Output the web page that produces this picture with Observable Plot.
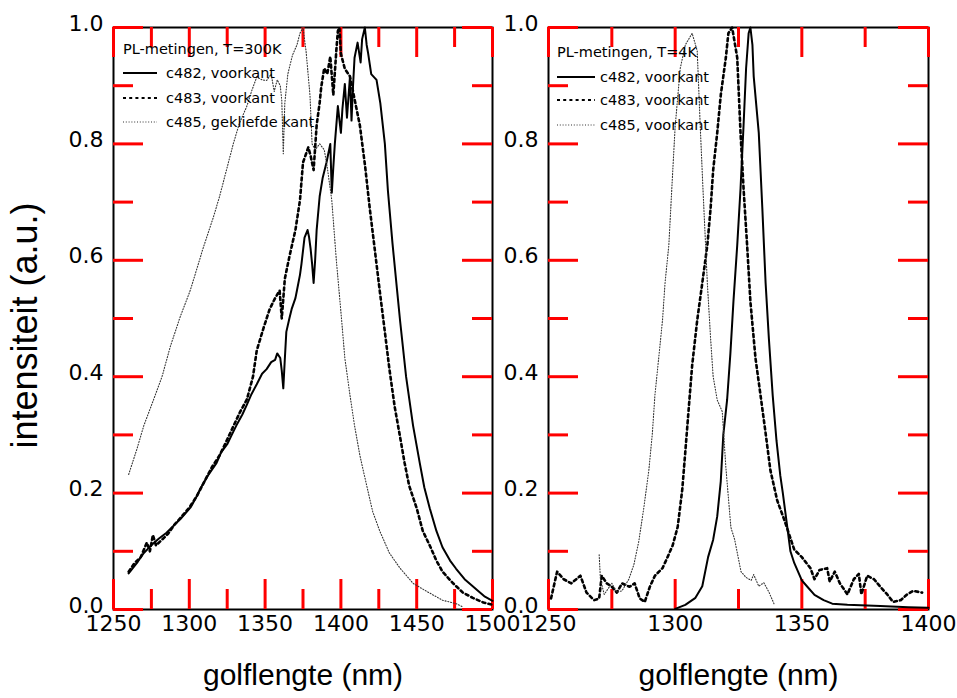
<!DOCTYPE html>
<html>
<head>
<meta charset="utf-8">
<script src="https://cdn.jsdelivr.net/npm/d3@7"></script>
<script src="https://cdn.jsdelivr.net/npm/@observablehq/plot@0.6"></script>
<style>
  html, body { margin: 0; padding: 0; background: white; }
  #chart { position: relative; width: 957px; height: 698px; overflow: hidden; background: white; }
  #chart svg { position: absolute; top: 0; overflow: visible; }
</style>
</head>
<body>
<div id="chart"></div>
<script>
// ---------- data: [wavelength (nm), intensity (a.u.)] ----------
const c482_300K = [[1260,0.062],[1263,0.072],[1266,0.082],[1270,0.097],[1273,0.105],[1276,0.113],[1280,0.122],[1285,0.132],[1290,0.145],[1294,0.155],[1298,0.167],[1301,0.176],[1305,0.195],[1307,0.206],[1312,0.229],[1318,0.252],[1321,0.27],[1325,0.284],[1328,0.3],[1331,0.316],[1335,0.335],[1338,0.352],[1341,0.37],[1344.5,0.387],[1348,0.405],[1351,0.413],[1354,0.425],[1356.6,0.429],[1358,0.44],[1360,0.432],[1361,0.41],[1362,0.38],[1363,0.43],[1364,0.477],[1366,0.5],[1367.5,0.516],[1370,0.535],[1371,0.548],[1373,0.575],[1374,0.594],[1376,0.639],[1378,0.652],[1379,0.64],[1380,0.62],[1381,0.594],[1382,0.561],[1383,0.6],[1384,0.652],[1386,0.71],[1388,0.742],[1390.5,0.768],[1393,0.8],[1394,0.716],[1395,0.76],[1396,0.8],[1398,0.865],[1400,0.819],[1401,0.86],[1402.6,0.903],[1404,0.845],[1406,0.916],[1407,0.84],[1408,0.9],[1409,0.948],[1411,0.974],[1413,0.94],[1414,0.98],[1415.8,1.0],[1417,0.97],[1418,0.955],[1420,0.92],[1423.5,0.91],[1426,0.87],[1429,0.8],[1431,0.72],[1434,0.63],[1437,0.55],[1439,0.497],[1443,0.4],[1447.6,0.316],[1452,0.252],[1455,0.21],[1458.6,0.174],[1463,0.135],[1467,0.107],[1472,0.084],[1476,0.07],[1481.6,0.052],[1486,0.042],[1490,0.033],[1495,0.022],[1500,0.015]];

const c483_300K = [[1260,0.065],[1264,0.08],[1268,0.09],[1272,0.115],[1274,0.1],[1276,0.128],[1278,0.11],[1282,0.12],[1286,0.13],[1290,0.145],[1295,0.16],[1300,0.175],[1305,0.195],[1310,0.22],[1315,0.245],[1320,0.265],[1325,0.292],[1330,0.32],[1333.6,0.34],[1338,0.361],[1342,0.4],[1344.5,0.445],[1349,0.484],[1353,0.516],[1356.6,0.535],[1359.6,0.548],[1361,0.5],[1363,0.568],[1366,0.606],[1370,0.652],[1373,0.703],[1375,0.768],[1378.5,0.794],[1380,0.78],[1382,0.755],[1384,0.832],[1386,0.871],[1387,0.897],[1389,0.93],[1391,0.92],[1393,0.95],[1395,0.884],[1397,0.961],[1398,0.994],[1399,1.0],[1400,0.955],[1402.6,0.929],[1406,0.916],[1409,0.877],[1412.5,0.832],[1416,0.761],[1419,0.69],[1422,0.626],[1425.6,0.548],[1429,0.477],[1432,0.413],[1435.5,0.348],[1439,0.297],[1442,0.252],[1445,0.213],[1450,0.174],[1454,0.135],[1458.6,0.11],[1463,0.084],[1467,0.065],[1474,0.045],[1480.5,0.029],[1487,0.02],[1494,0.012],[1500,0.008]];

const c485_300K = [[1260,0.232],[1265.6,0.277],[1270,0.316],[1276.5,0.361],[1282,0.4],[1287.5,0.452],[1294,0.503],[1300.6,0.548],[1306,0.594],[1309,0.62],[1316,0.675],[1320,0.71],[1325,0.76],[1329,0.8],[1333,0.835],[1338,0.865],[1341,0.89],[1344.5,0.915],[1348,0.91],[1351,0.909],[1354,0.92],[1356,0.89],[1358,0.91],[1360,0.9],[1361,0.875],[1362,0.783],[1363,0.87],[1365,0.92],[1368,0.952],[1371,0.97],[1373,0.99],[1375,1.0],[1377,0.96],[1379.6,0.884],[1381,0.8],[1383,0.79],[1386,0.8],[1389,0.79],[1391,0.76],[1394,0.703],[1397,0.6],[1400.5,0.497],[1402.6,0.432],[1406,0.368],[1409,0.316],[1412.5,0.265],[1417,0.213],[1421,0.168],[1425.6,0.135],[1432,0.097],[1439,0.071],[1447.6,0.045],[1456,0.032],[1467,0.016],[1476,0.01],[1480,0.005]];

const c482_4K = [[1300,0.001],[1304,0.008],[1308,0.02],[1310.7,0.04],[1313,0.09],[1315,0.12],[1316.6,0.16],[1318,0.22],[1319,0.3],[1320.5,0.36],[1321.8,0.44],[1323,0.529],[1324.5,0.626],[1325.8,0.723],[1327,0.832],[1328,0.93],[1329,0.99],[1329.7,1.0],[1330.5,0.97],[1331,0.916],[1333,0.819],[1334.4,0.69],[1335.7,0.561],[1337,0.465],[1338.5,0.368],[1340,0.29],[1341.5,0.23],[1342.5,0.2],[1344,0.15],[1345.5,0.1],[1347,0.08],[1350,0.05],[1352,0.04],[1355,0.025],[1358.6,0.016],[1362,0.01],[1368,0.008],[1381,0.006],[1392,0.004],[1400,0.003]];

const c483_4K = [[1251,0.019],[1253.4,0.065],[1256,0.052],[1259,0.045],[1262.6,0.058],[1265,0.029],[1268,0.016],[1270,0.019],[1271,0.058],[1273,0.045],[1275,0.039],[1277,0.029],[1279,0.045],[1282,0.039],[1284,0.045],[1286,0.019],[1288,0.013],[1290,0.039],[1292,0.058],[1295,0.071],[1297,0.09],[1299,0.11],[1301,0.142],[1302.8,0.206],[1304,0.271],[1305.4,0.348],[1306.7,0.419],[1308.7,0.497],[1310.7,0.561],[1312.7,0.626],[1314,0.69],[1315,0.755],[1316.6,0.819],[1318,0.884],[1320,0.948],[1321,0.99],[1322.5,1.0],[1324.5,0.948],[1325.8,0.819],[1327,0.723],[1328.4,0.626],[1329.7,0.529],[1331.7,0.432],[1333.7,0.368],[1335.7,0.303],[1337.6,0.239],[1340.3,0.187],[1343,0.155],[1347,0.103],[1350,0.09],[1353.4,0.071],[1355,0.052],[1357,0.068],[1360,0.071],[1361,0.048],[1363,0.065],[1365,0.045],[1368,0.026],[1370.5,0.052],[1372.5,0.061],[1373.5,0.026],[1375.8,0.058],[1378.5,0.052],[1381,0.039],[1383.7,0.026],[1386,0.013],[1389,0.016],[1391.6,0.026],[1394,0.032],[1397.5,0.029]];

const c485_4K = [[1270,0.094],[1270.5,0.052],[1272,0.026],[1275,0.045],[1277,0.03],[1279,0.032],[1281.7,0.052],[1283.7,0.077],[1285.6,0.116],[1287.6,0.174],[1289.6,0.239],[1291,0.303],[1292,0.368],[1293.5,0.432],[1295,0.497],[1296,0.561],[1297.5,0.626],[1299,0.75],[1300,0.83],[1302,0.93],[1304,0.97],[1306.7,0.99],[1308.7,0.96],[1310,0.82],[1311,0.72],[1312.7,0.561],[1314,0.465],[1315,0.4],[1316.6,0.36],[1318.6,0.34],[1320,0.245],[1322,0.141],[1323.5,0.12],[1326,0.065],[1328,0.055],[1330,0.05],[1331,0.06],[1333,0.04],[1335,0.046],[1337,0.03],[1339,0.01]];

// ---------- tick labels / categories ----------
const xMajorLeft = [1250, 1300, 1350, 1400, 1450, 1500];
const xMinorLeft = [1275, 1325, 1375, 1425, 1475];
const xMajorRight = [1250, 1300, 1350, 1400];
const xMinorRight = [1275, 1325, 1375];
const yMajor = [0, 0.2, 0.4, 0.6, 0.8, 1.0];
const yMinor = [0.1, 0.3, 0.5, 0.7, 0.9];
const legendLeftTitle = "PL-metingen, T=300K";
const legendLeftLabels = ["c482, voorkant", "c483, voorkant", "c485, gekliefde kant"];
const legendRightTitle = "PL-metingen, T=4K";
const legendRightLabels = ["c482, voorkant", "c483, voorkant", "c485, voorkant"];
const xTitle = "golflengte (nm)";
const yTitle = "intensiteit (a.u.)";

// ---------- styles ----------
const lineStyles = [
  {stroke: "#000", strokeWidth: 2, strokeDasharray: null},
  {stroke: "#000", strokeWidth: 2.6, strokeDasharray: "3,3.2"},
  {stroke: "#333", strokeWidth: 1.1, strokeDasharray: "1,1.8"}
];
const FONT = "'DejaVu Sans', 'Liberation Sans', Arial, sans-serif";
const TITLE_FONT = "'Liberation Sans', Arial, Helvetica, sans-serif";
const MT = 27, MB = 89, H = 698;
const FRAME_H = H - MT - MB;

function panel({series, domain, xMajor, xMinor, width, marginLeft, marginRight, withYTitle}) {
  const frameW = width - marginLeft - marginRight;
  const maj = 30, mnr = 20;   // diagnostic: long red ticks
  const marks = [];
  marks.push(Plot.frame({stroke: "#000", fill: "none", strokeWidth: 2}));
  marks.push(Plot.axisX({anchor: "bottom", ticks: xMajor, tickSize: 0, tickPadding: 6, tickFormat: d3.format("d"), label: null, fontSize: 22, fill: "#000"}));
  marks.push(Plot.axisY({anchor: "left", ticks: yMajor, tickSize: 0, tickPadding: 10, dy: -4, tickFormat: d3.format(".1f"), label: null, fontSize: 22, fill: "#000"}));
  const tickX = (vals, len, w) => [
    Plot.ruleX(vals, {x: d => d, insetTop: FRAME_H - len, stroke: "red", strokeWidth: w}),
    Plot.ruleX(vals, {x: d => d, insetBottom: FRAME_H - len, stroke: "red", strokeWidth: w})
  ];
  const tickY = (vals, len, w) => [
    Plot.ruleY(vals, {y: d => d, insetRight: frameW - len, stroke: "red", strokeWidth: w}),
    Plot.ruleY(vals, {y: d => d, insetLeft: frameW - len, stroke: "red", strokeWidth: w})
  ];
  marks.push(...tickX(xMajor, maj, 3), ...tickX(xMinor, mnr, 3));
  marks.push(...tickY(yMajor, maj, 3), ...tickY(yMinor, mnr, 3));
  series.forEach((s, i) => {
    const st = lineStyles[i];
    marks.push(Plot.line(s, {x: d => d[0], y: d => d[1], stroke: st.stroke, strokeWidth: st.strokeWidth, strokeDasharray: st.strokeDasharray, strokeLinejoin: "round"}));
  });
  marks.push(Plot.text([xTitle], {text: d => d, frameAnchor: "bottom", textAnchor: "middle", lineAnchor: "middle", dy: 66, fontSize: 30, fontFamily: TITLE_FONT, fill: "#000"}));
  if (withYTitle) {
    marks.push(Plot.text([yTitle], {text: d => d, frameAnchor: "left", textAnchor: "middle", lineAnchor: "middle", rotate: -90, dx: -88, dy: 7, fontSize: 36, fontFamily: TITLE_FONT, fill: "#000"}));
  }
  return Plot.plot({
    width, height: H,
    marginTop: MT, marginBottom: MB, marginLeft, marginRight,
    x: {domain, label: null},
    y: {domain: [0, 1], label: null},
    style: {fontFamily: FONT, fontSize: "22px", color: "#000", background: "transparent", overflow: "visible"},
    marks
  });
}

function addLegend(svg, x0, rows, sampleW, textX, title, labels) {
  const g = d3.select(svg).append("g")
    .attr("font-family", FONT).attr("font-size", 14.5).attr("fill", "#000").attr("text-anchor", "start");
  g.append("text").attr("x", x0).attr("y", rows[0]).attr("dy", "0.35em").text(title);
  labels.forEach((lab, i) => {
    const st = lineStyles[i];
    g.append("line").attr("x1", x0).attr("x2", x0 + sampleW).attr("y1", rows[i + 1]).attr("y2", rows[i + 1])
      .attr("stroke", st.stroke).attr("stroke-width", Math.min(st.strokeWidth, 2))
      .attr("stroke-dasharray", st.strokeDasharray);
    g.append("text").attr("x", textX).attr("y", rows[i + 1]).attr("dy", "0.35em").text(lab);
  });
}

const chart = document.getElementById("chart");

const leftW = 500;
const left = panel({series: [c482_300K, c483_300K, c485_300K], domain: [1250, 1500], xMajor: xMajorLeft, xMinor: xMinorLeft, width: leftW, marginLeft: 113, marginRight: leftW - 492, withYTitle: true});
left.style.left = "0px";
chart.appendChild(left);
addLegend(left, 123, [49, 73, 98, 122], 34, 166, legendLeftTitle, legendLeftLabels);

const rightX = 500;
const rightW = 957 - rightX;
const right = panel({series: [c482_4K, c483_4K, c485_4K], domain: [1250, 1400], xMajor: xMajorRight, xMinor: xMinorRight, width: rightW, marginLeft: 548 - rightX, marginRight: 957 - 928, withYTitle: false});
right.style.left = rightX + "px";
chart.appendChild(right);
addLegend(right, 557 - rightX, [52, 77, 100, 125], 38, 600 - rightX, legendRightTitle, legendRightLabels);
</script>
</body>
</html>
